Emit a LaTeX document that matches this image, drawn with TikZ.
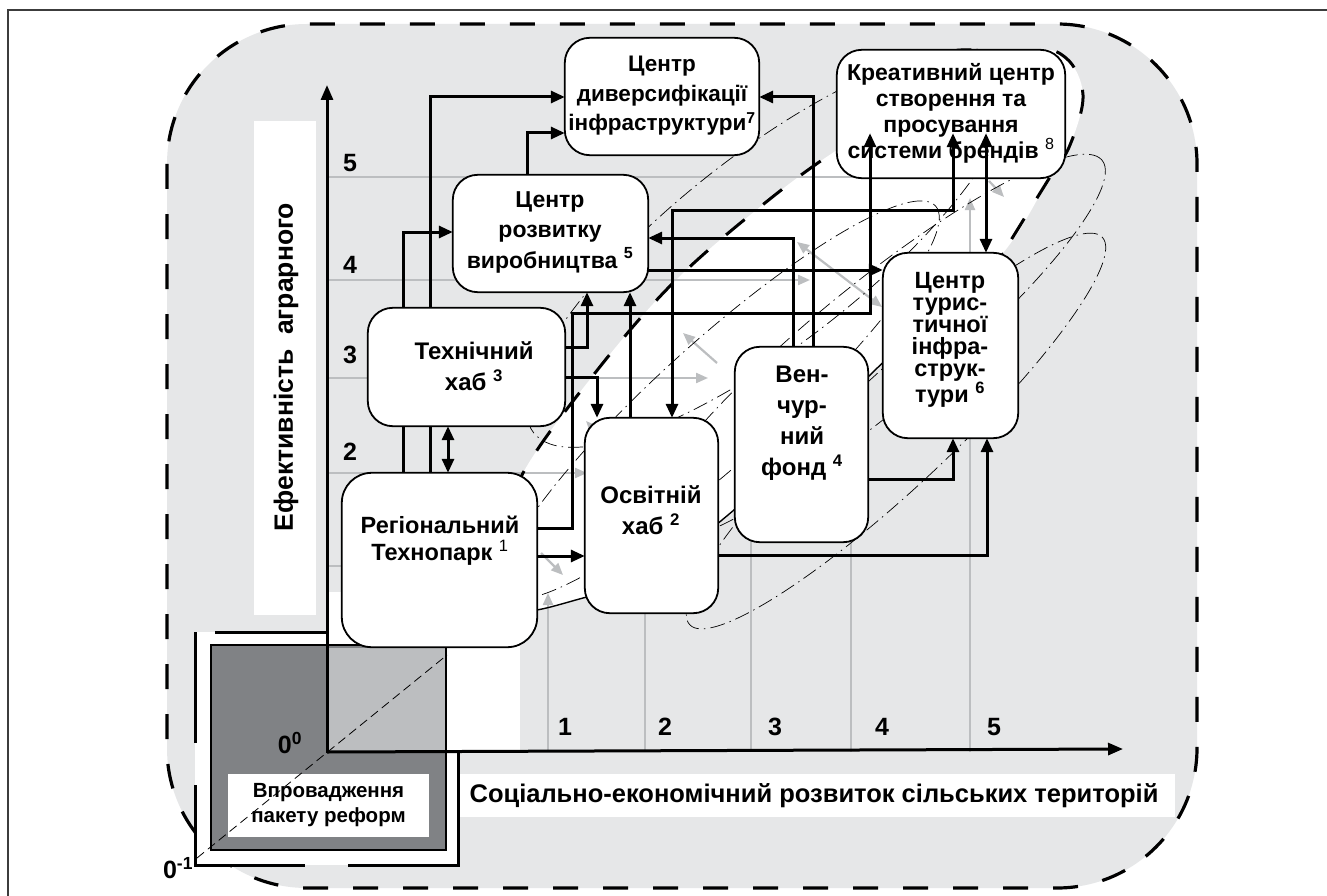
\documentclass[tikz,border=0pt]{standalone}
\usepackage{fontspec}
\setmainfont{Liberation Sans}
\usetikzlibrary{arrows.meta,calc}
\definecolor{bgfill}{RGB}{230,231,232}
\definecolor{gridc}{RGB}{188,190,192}
\definecolor{darksq}{RGB}{128,130,133}
\definecolor{lightsq}{RGB}{188,190,192}
\definecolor{framec}{RGB}{60,60,60}
\tikzset{
  box/.style={draw=black, line width=1.8pt, fill=white, rounded corners=25pt, inner sep=0pt},
  btxt/.style={font=\bfseries\fontsize{23}{30.5}\selectfont, align=center, inner sep=0pt},
  conn/.style={line width=3pt, -{Triangle[length=14pt,width=12pt]}},
  dconn/.style={line width=3pt, {Triangle[length=14pt,width=12pt]}-{Triangle[length=14pt,width=12pt]}},
  gridl/.style={gridc, line width=1.5pt},
  garrow/.style={gridc, line width=2.2pt, -{Triangle[length=12pt,width=10pt]}},
  garrow2/.style={gridc, line width=2.2pt, {Triangle[length=12pt,width=10pt]}-{Triangle[length=12pt,width=10pt]}},
  dd/.style={line width=0.7pt, dash pattern=on 15pt off 5pt on 1.5pt off 5pt},
  num/.style={font=\bfseries\fontsize{25}{25}\selectfont, inner sep=0pt},
  axisarrow/.style={line width=3pt, -{Triangle[length=15pt,width=12pt]}},
  whiteband/.style={fill=white, draw=none, inner sep=0pt},
}
\begin{document}
\begin{tikzpicture}[x=1pt,y=-1pt]
\useasboundingbox (0,0) rectangle (1327,896);
\clip (0,0) rectangle (1327,896);
\fill[white] (0,0) rectangle (1327,896);
% outer frame
\draw[framec, line width=2pt] (8,10) rectangle (1345,915);
% gray rounded dashed area
\draw[fill=bgfill, line width=3.2pt, dash pattern=on 25pt off 25pt, rounded corners=140pt] (167,24) rectangle (1197,888);
% white areas
\fill[white] (328,592) rectangle (520,752);
\fill[white] plot[smooth cycle, tension=0.6] coordinates {(500,590) (505,540) (523,473) (595,373) (673,283) (760,207) (837,150) (940,88) (1030,52) (1066,58) (1083,95) (1070,145) (1050,177) (1003,253) (930,320) (870,375) (800,448) (728,515) (640,582) (583,598) (537,610) (505,612)};
\fill[white] (254,121) rectangle (316,615);
\fill[white] (458,774) rectangle (1175,817);
% grid lines
\draw[gridl] (328,177) -- (900,177);
\draw[garrow] (328,280) -- (810,280);
\draw[garrow] (328,378) -- (708,378);
\draw[garrow] (328,473) -- (587,473);
\draw[gridl] (328,566) -- (500,566);
\draw[garrow] (548,752) -- (548,593);
\draw[gridl] (645,752) -- (645,600);
\draw[gridl] (751,752) -- (751,540);
\draw[gridl] (851,752) -- (851,540);
\draw[garrow] (970,752) -- (970,198);
% gray diagonal arrows
\draw[garrow] (717,363) -- (683,333);
\draw[garrow2] (797,242) -- (882,307);
\draw[garrow] (541,553) -- (563,575);
\draw[garrow] (601,437) -- (586,421);
\draw[garrow] (989,181) -- (1004,197);
% dash-dot ellipses
\draw[dd, rotate around={39.4:(871,350)}] (871,350) ellipse (299 and 62);
\draw[dd, rotate around={43.2:(896,431)}] (896,431) ellipse (283 and 55);
\draw[dd, rotate around={38:(770,248)}] (770,248) ellipse (300 and 95);
\draw[dd, rotate around={42:(720,400)}] (720,400) ellipse (290 and 60);
% boundary of white region
\draw[line width=3pt, dash pattern=on 24pt off 24pt] plot[smooth, tension=0.6] coordinates {(505,540) (523,473) (595,373) (673,283) (760,207) (837,150) (940,88) (1030,52) (1066,58) (1083,95) (1070,145) (1050,177) (1003,253)};
\draw[line width=1.4pt] plot[smooth, tension=0.6] coordinates {(1003,253) (930,320) (870,375) (800,448) (728,515) (640,582) (583,598) (537,610) (505,612)};
% bottom-left block
\fill[white] (195,632) rectangle (458,865);
\draw[line width=3pt] (195,632) -- (195,743);
\draw[line width=3pt] (195,785) -- (195,865) -- (305,865);
\draw[line width=3pt] (348,865) -- (458,865) -- (458,752);
\draw[line width=3pt] (215,632) -- (327,632);
\fill[darksq] (211,645) rectangle (446,850);
\fill[lightsq] (327,648) rectangle (446,752);
\draw[line width=1.2pt] (211,645) rectangle (446,850);
\node[whiteband, minimum width=201pt, minimum height=63pt, font=\bfseries\fontsize{20.5}{25}\selectfont, align=center] (reform) at (328.5,805.5) {Впровадження\\пакету реформ};
\coordinate (dlo) at (197,858);
\coordinate (dhi) at (447,655);
\draw[line width=0.8pt, dash pattern=on 9pt off 5pt] (dlo) -- (dhi);
\node[num] (z0) at (290,743) {0\textsuperscript{0}};
\node[num] (z1) at (178,868) {0\textsuperscript{-1}};
% axes
\coordinate (O) at (327,752);
\coordinate (Ytop) at (327,85);
\coordinate (Xend) at (1123,749);
\draw[axisarrow] (327,753) -- (Ytop);
\draw[axisarrow] (O) -- (Xend);
% axis labels
\node[rotate=90, font=\bfseries\fontsize{26.5}{26.5}\selectfont, inner sep=0pt] (ylab) at (286,367) {Ефективність\ \ аграрного};
\node[font=\bfseries\fontsize{25.5}{25.5}\selectfont, inner sep=0pt] (xlab) at (814,796) {Соціально-економічний розвиток сільських територій};
\node[num] (y5) at (350,163) {5};
\node[num] (y4) at (350,265) {4};
\node[num] (y3) at (350,355) {3};
\node[num] (y2) at (350,452) {2};
\node[num] (x1) at (565,727) {1};
\node[num] (x2) at (665,727) {2};
\node[num] (x3) at (775,727) {3};
\node[num] (x4) at (882,727) {4};
\node[num] (x5) at (994,727) {5};
% box positions
\coordinate (c7) at (662,96.5);
\coordinate (c8) at (951,114);
\coordinate (c5) at (550.5,233.5);
\coordinate (c3) at (466.5,367);
\coordinate (c1) at (439.5,560);
\coordinate (c2) at (651.5,515.5);
\coordinate (c4) at (801.5,444.5);
\coordinate (c6) at (950.5,345.5);
\path (c7) node[minimum width=194pt, minimum height=117pt, inner sep=0pt] (b7) {};
\path (c8) node[minimum width=228pt, minimum height=128pt, inner sep=0pt] (b8) {};
\path (c5) node[minimum width=195pt, minimum height=117pt, inner sep=0pt] (b5) {};
\path (c3) node[minimum width=197pt, minimum height=118pt, inner sep=0pt] (b3) {};
\path (c1) node[minimum width=195pt, minimum height=174pt, inner sep=0pt] (b1) {};
\path (c2) node[minimum width=133pt, minimum height=195pt, inner sep=0pt] (b2) {};
\path (c4) node[minimum width=133pt, minimum height=195pt, inner sep=0pt] (b4) {};
\path (c6) node[minimum width=135pt, minimum height=185pt, inner sep=0pt] (b6) {};
% connectors behind boxes
\draw[conn] (b1.north -| 430,0) -- (430,97) -- (b7.west |- 0,97);
\draw[conn] (b1.north -| 403,0) -- (403,232) -- (b5.west |- 0,232);
\draw[dconn] (b3.south -| 448,0) -- (b1.north -| 448,0);
\draw[conn] (b5.north -| 527,0) -- (527,133) -- (b7.west |- 0,133);
\draw[conn] (b3.east |- 0,347) -- (587,347) -- (b5.south -| 587,0);
\draw[conn] (b3.east |- 0,377) -- (597,377) -- (b2.north -| 597,0);
\draw[conn] (b5.east |- 0,270) -- (b6.west |- 0,270);
\draw[conn] (b4.north -| 793,0) -- (793,238) -- (b5.east |- 0,238);
\draw[conn] (b4.north -| 813,0) -- (813,97) -- (b7.east |- 0,97);
\draw[conn] (b1.east |- 0,556) -- (b2.west |- 0,556);
\draw[conn] (b2.east |- 0,555) -- (987,555) -- (b6.south -| 987,0);
\draw[conn] (b4.east |- 0,479) -- (953,479) -- (b6.south -| 953,0);
\draw[conn] (b2.north -| 630,0) -- (b5.south -| 630,0);
% box outlines
\draw[box] (b7.south west) rectangle (b7.north east);
\draw[box] (b8.south west) rectangle (b8.north east);
\draw[box] (b5.south west) rectangle (b5.north east);
\draw[box] (b3.south west) rectangle (b3.north east);
\draw[box, rounded corners=30pt] (b1.south west) rectangle (b1.north east);
\draw[box] (b2.south west) rectangle (b2.north east);
\draw[box] (b4.south west) rectangle (b4.north east);
\draw[box] (b6.south west) rectangle (b6.north east);
% box texts
\node[btxt, font=\bfseries\fontsize{22.5}{29.5}\selectfont] (t7) at (662,96) {Центр\\диверсифікації\\інфраструктури\textsuperscript{7}};
\node[btxt, font=\bfseries\fontsize{23}{26}\selectfont] (t8) at (951,113) {Креативний центр\\створення та\\просування\\системи брендів \textsuperscript{\mdseries 8}};
\node[btxt] (t5) at (550,232) {Центр\\розвитку\\виробництва \textsuperscript{5}};
\node[btxt, font=\bfseries\fontsize{24}{31}\selectfont] (t3) at (474,366) {Технічний\\хаб \textsuperscript{3}};
\node[btxt, font=\bfseries\fontsize{23.5}{27}\selectfont] (t1) at (440,541) {Регіональний\\Технопарк \textsuperscript{\mdseries 1}};
\node[btxt, font=\bfseries\fontsize{24}{31}\selectfont] (t2) at (651,510) {Освітній\\хаб \textsuperscript{2}};
\node[btxt, font=\bfseries\fontsize{24}{31}\selectfont] (t4) at (802,423) {Вен-\\чур-\\ний\\фонд \textsuperscript{4}};
\node[btxt, font=\bfseries\fontsize{23.5}{21.8}\selectfont] (t6) at (950,340) {Центр\\турис-\\тичної\\інфра-\\струк-\\тури \textsuperscript{6}};
% connectors drawn over the creative centre box
\draw[conn] (b1.east |- 0,528) -- (572,528) -- (572,313) -- (870,313) -- ([yshift=45pt]b8.south -| 870,0);
\draw[dconn] (b2.north -| 672,0) -- (672,210) -- (953,210) -- ([yshift=45pt]b8.south -| 953,0);
\draw[dconn] ([yshift=45pt]b8.south -| 986,0) -- (b6.north -| 986,0);
\end{tikzpicture}
\end{document}
